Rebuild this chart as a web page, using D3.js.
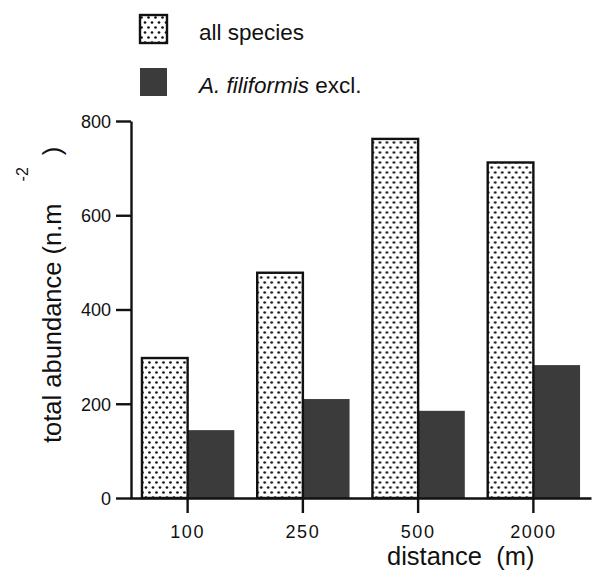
<!DOCTYPE html>
<html>
<head>
<meta charset="utf-8">
<script src="https://d3js.org/d3.v7.min.js"></script>
<style>
  body { margin: 0; background: #fff; }
  svg text { font-family: "Liberation Sans", Arial, sans-serif; fill: #111; }
</style>
</head>
<body>
<svg class="chart" width="592" height="572"></svg>
<script>
// data
const distances = ["100", "250", "500", "2000"];
const allSpecies = [297, 478, 762, 712];
const filiformisExcl = [144, 210, 185, 282];
const yTicks = [0, 200, 400, 600, 800];
const seriesNames = ["all species", "filiformis excl."];

const svg = d3.select(".chart");

// dotted fill
const defs = svg.append("defs");
const pat = defs.append("pattern")
    .attr("id", "dots")
    .attr("patternUnits", "userSpaceOnUse")
    .attr("width", 7).attr("height", 10);
pat.append("rect").attr("width", 7).attr("height", 10).attr("fill", "#fff");
pat.append("circle").attr("cx", 1.5).attr("cy", 2.5).attr("r", 1.35).attr("fill", "#111");
pat.append("circle").attr("cx", 5).attr("cy", 7.5).attr("r", 1.35).attr("fill", "#111");

const fills = ["url(#dots)", "#3b3b3b"];

var y = d3.scaleLinear().domain([0, 800]).range([498, 121]);
var x0 = d3.scaleBand().domain(distances).range([130, 591])
    .paddingInner(0.19).paddingOuter(0.095);
var x1 = d3.scaleBand().domain([0, 1]).range([0, x0.bandwidth()]);

var rows = distances.map((d, i) => ({ key: d, vals: [allSpecies[i], filiformisExcl[i]] }));

var groups = svg.selectAll(".grp").data(rows).enter()
    .append("g").attr("class", "grp")
    .attr("transform", d => "translate(" + x0(d.key) + ",0)");

// dark bars first so dotted outline sits on top
groups.selectAll("rect").data(d => d.vals.map((v, j) => ({ v: v, j: j })).reverse())
    .enter().append("rect")
    .attr("x", d => x1(d.j) + (d.j === 0 ? 1 : 0))
    .attr("y", d => y(d.v))
    .attr("width", d => x1.bandwidth() - (d.j === 0 ? 1 : 0))
    .attr("height", d => y(0) - y(d.v))
    .attr("fill", d => fills[d.j])
    .attr("stroke", d => d.j === 0 ? "#111" : "none")
    .attr("stroke-width", 2.4);

// left axis
var yAxis = svg.append("g")
    .attr("transform", "translate(131,0)")
    .call(d3.axisLeft(y).tickValues(yTicks).tickSize(15).tickSizeOuter(0).tickPadding(5));
yAxis.select(".domain").attr("stroke", "#111").attr("stroke-width", 2.4);
yAxis.selectAll(".tick line").attr("stroke", "#111").attr("stroke-width", 2.4);
yAxis.selectAll(".tick text").style("font-size", "18px").attr("dy", "0.35em");

// bottom axis
var xAxis = svg.append("g")
    .attr("transform", "translate(0,498)")
    .call(d3.axisBottom(x0).tickSize(15).tickSizeOuter(0).tickPadding(12));
xAxis.select(".domain").attr("stroke", "#111").attr("stroke-width", 2.4);
xAxis.selectAll(".tick line").attr("stroke", "#111").attr("stroke-width", 2.4);
xAxis.selectAll(".tick text").style("font-size", "18px").style("letter-spacing", "1.5px");
// tick sits on the boundary between the two bars of a group
xAxis.selectAll(".tick").attr("transform", d => "translate(" + (x0(d) + x1(1)) + ",0)");

// axis titles
svg.append("text")
    .attr("x", 387).attr("y", 565)
    .style("font-size", "25.5px")
    .attr("xml:space", "preserve")
    .text("distance  (m)");

var yt = svg.append("text")
    .attr("transform", "translate(61,443) rotate(-90)")
    .style("font-size", "25.5px");
yt.append("tspan").text("total abundance (n.m");
yt.append("tspan").attr("dx", 22).attr("dy", -33).style("font-size", "16px").text("-2");
yt.append("tspan").attr("dx", 12).attr("dy", 33).text(")");

// legend
var leg = svg.selectAll(".leg").data(seriesNames).enter()
    .append("g").attr("class", "leg")
    .attr("transform", (d, i) => "translate(140," + (15 + i * 53) + ")");
leg.append("rect")
    .attr("width", 27).attr("height", 28)
    .attr("fill", (d, i) => fills[i])
    .attr("stroke", (d, i) => i === 0 ? "#111" : "none")
    .attr("stroke-width", 2.4);
var lt = leg.append("text").attr("x", 59).attr("y", 25).style("font-size", "22.5px");
lt.filter((d, i) => i === 0).text(d => d);
lt.filter((d, i) => i === 1).each(function (d) {
    d3.select(this).append("tspan").style("font-style", "italic").text("A. filiformis");
    d3.select(this).append("tspan").text(" excl.");
});
</script>
</body>
</html>
